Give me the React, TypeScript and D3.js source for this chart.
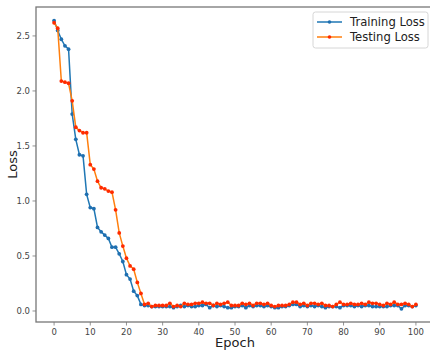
import React from "react";
import * as d3 from "d3";

const epochs = d3.range(0, 101);

const trainingLoss = [
  2.64, 2.55, 2.47, 2.41, 2.38, 1.79, 1.56, 1.42, 1.41, 1.06,
  0.94, 0.93, 0.76, 0.72, 0.69, 0.66, 0.58, 0.58, 0.52, 0.45,
  0.33, 0.29, 0.18, 0.14, 0.06, 0.05, 0.05, 0.04, 0.04, 0.04,
  0.04, 0.04, 0.04, 0.03, 0.04, 0.05, 0.04, 0.05, 0.04, 0.04,
  0.05, 0.05, 0.06, 0.03, 0.05, 0.04, 0.05, 0.04, 0.03, 0.03,
  0.04, 0.04, 0.05, 0.03, 0.05, 0.04, 0.05, 0.05, 0.04, 0.05,
  0.04, 0.03, 0.03, 0.04, 0.04, 0.05, 0.06, 0.06, 0.04, 0.05,
  0.04, 0.05, 0.04, 0.05, 0.04, 0.03, 0.04, 0.04, 0.04, 0.03,
  0.05, 0.05, 0.05, 0.04, 0.05, 0.04, 0.05, 0.05, 0.04, 0.04,
  0.04, 0.04, 0.04, 0.05, 0.05, 0.05, 0.02, 0.05, 0.05, 0.04,
  0.05,
];

const testingLoss = [
  2.62, 2.57, 2.09, 2.08, 2.07, 1.91, 1.67, 1.64, 1.62, 1.62,
  1.33, 1.29, 1.18, 1.12, 1.11, 1.09, 1.08, 0.92, 0.71, 0.59,
  0.48, 0.41, 0.38, 0.26, 0.16, 0.06, 0.07, 0.04, 0.05, 0.05,
  0.05, 0.05, 0.07, 0.04, 0.05, 0.04, 0.07, 0.06, 0.06, 0.07,
  0.07, 0.08, 0.07, 0.07, 0.05, 0.07, 0.06, 0.07, 0.08, 0.05,
  0.05, 0.05, 0.07, 0.06, 0.07, 0.05, 0.07, 0.07, 0.06, 0.07,
  0.05, 0.04, 0.05, 0.05, 0.05, 0.06, 0.08, 0.08, 0.06, 0.07,
  0.05, 0.07, 0.07, 0.06, 0.07, 0.05, 0.05, 0.04, 0.06, 0.08,
  0.06, 0.06, 0.07, 0.06, 0.06, 0.07, 0.06, 0.08, 0.07, 0.07,
  0.06, 0.05, 0.07, 0.06, 0.08, 0.06, 0.06, 0.07, 0.06, 0.04,
  0.06,
];

const xTicks = [0, 10, 20, 30, 40, 50, 60, 70, 80, 90, 100];
const yTicks = [0.0, 0.5, 1.0, 1.5, 2.0, 2.5];

const series = [
  { name: "Training Loss", values: trainingLoss, line: "#1f77b4", marker: "#1f6fb0" },
  { name: "Testing Loss", values: testingLoss, line: "#ff7f0e", marker: "#ff2a00" },
];

const W = 430;
const H = 351;
const left = 36;
const right = 434;
const top = 7;
const bottom = 322;

const font = "'DejaVu Sans', sans-serif";

export default function App() {
  const x = d3.scaleLinear().domain([-5, 105]).range([left, right]);
  const y = d3.scaleLinear().domain([-0.1, 2.763]).range([bottom, top]);

  const line = d3
    .line<number>()
    .x((_, i) => x(epochs[i]))
    .y(d => y(d));

  return (
    <svg
      width={W}
      height={H}
      style={{ position: "absolute", left: 0, top: 0, background: "#fff" }}
      fontFamily={font}
    >
      {/* spines */}
      <rect
        x={left}
        y={top}
        width={right - left}
        height={bottom - top}
        fill="none"
        stroke="#777"
        strokeWidth={1.3}
      />

      {/* x axis */}
      {xTicks.map(t => (
        <g key={t}>
          <line x1={x(t)} x2={x(t)} y1={bottom} y2={bottom + 3.5} stroke="#777" strokeWidth={0.8} />
          <text x={x(t)} y={bottom + 12.5} fontSize={8.5} fill="#444" textAnchor="middle">
            {t}
          </text>
        </g>
      ))}

      {/* y axis */}
      {yTicks.map(t => (
        <g key={t}>
          <line x1={left - 3.5} x2={left} y1={y(t)} y2={y(t)} stroke="#777" strokeWidth={0.8} />
          <text x={left - 6} y={y(t) + 3} fontSize={8.5} fill="#444" textAnchor="end">
            {t.toFixed(1)}
          </text>
        </g>
      ))}

      <text x={235} y={347} fontSize={13} fill="#222" textAnchor="middle">
        Epoch
      </text>
      <text
        transform={`translate(16.5,${(top + bottom) / 2}) rotate(-90)`}
        fontSize={13}
        fill="#222"
        textAnchor="middle"
      >
        Loss
      </text>

      {/* series */}
      {series.map(s => (
        <g key={s.name}>
          <path d={line(s.values) ?? ""} fill="none" stroke={s.line} strokeWidth={1.5} />
          {s.values.map((v, i) => (
            <circle key={i} cx={x(epochs[i])} cy={y(v)} r={1.9} fill={s.marker} />
          ))}
        </g>
      ))}

      {/* legend */}
      <g>
        <rect x={313} y={12} width={115} height={36} rx={2.5} fill="#fff" stroke="#ccc" strokeWidth={0.8} />
        {series.map((s, i) => {
          const ly = 22 + i * 15;
          return (
            <g key={s.name}>
              <line x1={317} x2={342} y1={ly} y2={ly} stroke={s.line} strokeWidth={1.5} />
              <circle cx={329.5} cy={ly} r={1.8} fill={s.marker} />
              <text x={350} y={ly + 4.2} fontSize={11.6} fill="#222">
                {s.name}
              </text>
            </g>
          );
        })}
      </g>
    </svg>
  );
}
